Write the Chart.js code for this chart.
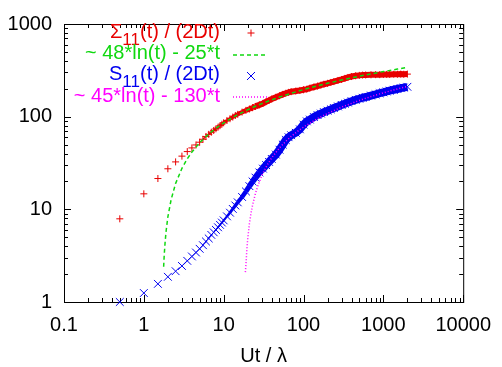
<!DOCTYPE html>
<html>
<head>
<meta charset="utf-8">
<script src="https://cdn.jsdelivr.net/npm/chart.js@4"></script>
<style>body{margin:0;background:#fff}</style>
</head>
<body>
<canvas id="c" width="502" height="367"></canvas>
<script>
// temps (Ut / lambda) des points mesurés
const tSample = [0.5, 1, 1.5, 2, 2.5, 3, 3.5, 4, 4.5, 5, 5.5, 6, 6.5, 7, 7.5, 8, 8.5, 9, 9.5, 10,
  11, 12, 13, 14, 15, 17, 19, 21, 23, 25, 28, 31, 34, 37, 40, 45, 50, 55, 60, 65, 70,
  80, 90, 100, 110, 120, 135, 150, 165, 180, 200, 220, 240, 270, 300, 330, 360, 400, 450, 500,
  550, 600, 700, 800, 900, 1000, 1100, 1200, 1350, 1500, 1650, 1800, 2000];

// Sigma11(t) / (2Dt)
const sigma11 = [7.9, 14.7, 21.5, 27.4, 32.5, 37.5, 42, 46, 49.5, 53, 57, 61, 64.5, 68, 71, 74, 77, 80, 83, 86,
  91, 95, 99, 103, 106, 112, 117, 121, 125, 129, 134, 139, 145, 150, 155, 162, 168, 174, 179, 183, 186,
  189, 192, 195, 198, 203, 209, 214, 219, 224, 229, 234, 239, 246, 252, 259, 265, 271, 276, 279,
  281, 282, 283, 284, 284, 285, 286, 286, 287, 287, 288, 287, 288];

// S11(t) / (2Dt)
const s11 = [1.0, 1.25, 1.57, 1.87, 2.15, 2.45, 2.78, 3.1, 3.42, 3.75, 4.1, 4.5, 4.85, 5.3, 5.65, 6.0, 6.4, 6.8, 7.2, 7.6,
  8.4, 9.2, 10.1, 11.0, 11.9, 13.6, 15.6, 17.8, 20, 22, 25, 27.5, 30, 32.5, 35, 39, 44, 50, 56, 60, 63,
  67, 73, 82, 89, 93, 99, 104, 108, 112, 116, 120, 124, 129, 134, 138, 142, 147, 152, 156,
  160, 163, 169, 174, 179, 183, 187, 191, 195, 199, 203, 206, 210];

// ajustement vert (tirets)
const tGreen = [1.77, 1.8, 1.85, 1.9, 2, 2.2, 2.5, 3, 3.5, 4, 5, 6, 7, 8, 10, 12, 15, 20, 25, 30, 40, 50, 70,
  100, 150, 200, 300, 500, 700, 1000, 1500, 2000];
const fitGreen = [2.4, 3.2, 4.5, 5.8, 8.3, 12.8, 19.0, 27.7, 35.1, 41.5, 52.3, 61.0, 68.4, 74.8, 85.5, 94.3, 105, 118.8,
  129.5, 138.3, 152, 162.8, 178.9, 196, 215.5, 229.3, 248.8, 273.3, 289.4, 306.6, 326, 339.8];

// ajustement magenta (pointillés)
const tMag = [18.7, 19, 19.5, 20, 21, 22, 23, 25, 27, 30, 35, 40, 50, 60, 70, 85, 100, 150, 200, 300, 500, 700,
  1000, 1500, 2000];
const fitMag = [2.1, 2.5, 3.67, 4.8, 7.0, 9.1, 11.1, 14.85, 18.3, 23.05, 30.0, 36.0, 46.0, 54.2, 61.2, 69.9, 77.2,
  95.5, 108.4, 126.7, 149.7, 164.8, 180.9, 199.1, 212];

const xTicks = [0.1, 1, 10, 100, 1000, 10000];
const yTicks = [1, 10, 100, 1000];

const seriesLabels = [
  { main: "Σ", sub: "11", rest: "(t) / (2Dt)" },
  { main: "~ 48*ln(t) - 25*t" },
  { main: "S", sub: "11", rest: "(t) / (2Dt)" },
  { main: "~ 45*ln(t) - 130*t" }
];
const xTitle = "Ut / λ";

const FONT = "'Liberation Sans', Arial, sans-serif";
const RED = "#e80000", GREEN = "#10d810", BLUE = "#0000f0", MAGENTA = "#ff00ff";
const NONE = "rgba(0,0,0,0)";

const pts = (xs, ys) => xs.map((x, i) => ({ x, y: ys[i] }));

// épaisseur de la bande (points qui se chevauchent) : 0 avant t0, puis grandit jusqu'à wMax
const bandWidth = (t0, t1, wMax) => c => {
  const t = c.p0.parsed.x;
  if (t < t0) return 0;
  return Math.min(wMax, 1 + (wMax - 1) * Math.log(t / t0) / Math.log(t1 / t0));
};

// cadre + graduations vers l'intérieur (style gnuplot)
const frame = {
  id: "frame",
  beforeDatasetsDraw(chart) {
    const { ctx, chartArea: a, scales: { x, y } } = chart;
    ctx.save();
    ctx.strokeStyle = "#000";
    ctx.lineWidth = 1;
    ctx.beginPath();
    const tick = (px, len, horiz) => {
      if (horiz) {
        ctx.moveTo(px, a.bottom); ctx.lineTo(px, a.bottom - len);
        ctx.moveTo(px, a.top); ctx.lineTo(px, a.top + len);
      } else {
        ctx.moveTo(a.left, px); ctx.lineTo(a.left + len, px);
        ctx.moveTo(a.right, px); ctx.lineTo(a.right - len, px);
      }
    };
    xTicks.forEach((d, i) => {
      tick(Math.round(x.getPixelForValue(d)) + 0.5, 7, true);
      if (i < xTicks.length - 1)
        for (let m = 2; m < 10; m++) tick(Math.round(x.getPixelForValue(d * m)) + 0.5, 4, true);
    });
    yTicks.forEach((d, i) => {
      tick(Math.round(y.getPixelForValue(d)) + 0.5, 7, false);
      if (i < yTicks.length - 1)
        for (let m = 2; m < 10; m++) tick(Math.round(y.getPixelForValue(d * m)) + 0.5, 4, false);
    });
    ctx.stroke();
    ctx.strokeRect(a.left + 0.5, a.top + 0.5, a.right - a.left, a.bottom - a.top);
    ctx.restore();
  },
  afterDraw(chart) {
    const { ctx, chartArea: a } = chart;
    ctx.save();
    // titre axe x
    ctx.font = "20px " + FONT;
    ctx.fillStyle = "#000";
    ctx.textAlign = "center";
    ctx.textBaseline = "alphabetic";
    ctx.fillText(xTitle, (a.left + a.right) / 2, 362);

    // légende
    const colors = [RED, GREEN, BLUE, MAGENTA];
    const baselines = [38, 59, 80, 102];
    const sampleY = [33, 55, 76, 97];
    const rightX = 220;
    ctx.textAlign = "left";
    seriesLabels.forEach((l, i) => {
      ctx.fillStyle = colors[i];
      ctx.font = "20px " + FONT;
      const wMain = ctx.measureText(l.main).width;
      const wRest = l.rest ? ctx.measureText(l.rest).width : 0;
      ctx.font = "17px " + FONT;
      const wSub = l.sub ? ctx.measureText(l.sub).width : 0;
      let px = rightX - wMain - wSub - wRest;
      ctx.font = "20px " + FONT;
      ctx.fillText(l.main, px, baselines[i]);
      px += wMain;
      if (l.sub) {
        ctx.font = "17px " + FONT;
        ctx.fillText(l.sub, px, baselines[i] + 7);
        px += wSub;
        ctx.font = "20px " + FONT;
        ctx.fillText(l.rest, px, baselines[i]);
      }
      // échantillon
      ctx.strokeStyle = colors[i];
      ctx.beginPath();
      const sy = sampleY[i];
      if (i === 0) {
        ctx.lineWidth = 1;
        ctx.moveTo(247.5, sy); ctx.lineTo(254.5, sy);
        ctx.moveTo(251, sy - 3.5); ctx.lineTo(251, sy + 3.5);
      } else if (i === 2) {
        ctx.lineWidth = 1;
        ctx.moveTo(247, sy - 4); ctx.lineTo(255, sy + 4);
        ctx.moveTo(247, sy + 4); ctx.lineTo(255, sy - 4);
      } else {
        ctx.lineWidth = 1.5;
        ctx.setLineDash(i === 1 ? [4, 3] : [1, 2]);
        ctx.moveTo(233, sy); ctx.lineTo(268, sy);
      }
      ctx.stroke();
      ctx.setLineDash([]);
    });
    ctx.restore();
  }
};

new Chart(document.getElementById("c"), {
  type: "scatter",
  data: {
    datasets: [
      // les points se chevauchent en bande pleine aux temps longs
      { data: pts(tSample, sigma11), pointStyle: "cross", pointRadius: 3.5, pointBorderColor: RED,
        pointBorderWidth: 1, showLine: true, borderWidth: 6, borderColor: RED, tension: 0,
        segment: { borderColor: c => c.p0.parsed.x >= 5 ? RED : NONE, borderWidth: bandWidth(5, 25, 6) },
        order: 4 },
      { data: pts(tGreen, fitGreen), showLine: true, pointRadius: 0, borderColor: GREEN,
        borderWidth: 1.5, borderDash: [4, 3], tension: 0, order: 3 },
      { data: pts(tSample, s11), pointStyle: "crossRot", pointRadius: 5.5, pointBorderColor: BLUE,
        pointBorderWidth: 1, showLine: true, borderWidth: 8, borderColor: BLUE, tension: 0,
        segment: { borderColor: c => c.p0.parsed.x >= 8 ? BLUE : NONE, borderWidth: bandWidth(8, 35, 8) },
        order: 2, clip: false },
      { data: pts(tMag, fitMag), showLine: true, pointRadius: 0, borderColor: MAGENTA,
        borderWidth: 1.5, borderDash: [1, 2], tension: 0, order: 1 }
    ]
  },
  options: {
    responsive: false,
    animation: false,
    devicePixelRatio: 1,
    layout: { padding: { top: 14, right: 33, left: 0, bottom: 0 } },
    plugins: { legend: { display: false }, tooltip: { enabled: false } },
    scales: {
      x: {
        type: "logarithmic", min: 0.1, max: 10000,
        grid: { display: false, drawTicks: false }, border: { display: false },
        ticks: { font: { family: FONT, size: 20 }, color: "#000", padding: 11,
          maxRotation: 0, autoSkip: false, callback: v => String(v) },
        afterBuildTicks: s => { s.ticks = xTicks.map(value => ({ value })); },
        afterFit: s => { s.height = 65; }
      },
      y: {
        type: "logarithmic", min: 1, max: 1000,
        grid: { display: false, drawTicks: false }, border: { display: false },
        ticks: { font: { family: FONT, size: 20 }, color: "#000", padding: 12,
          autoSkip: false, callback: v => String(v) },
        afterBuildTicks: s => { s.ticks = yTicks.map(value => ({ value })); },
        afterFit: s => { s.width = 64; }
      }
    }
  },
  plugins: [frame]
});
</script>
</body>
</html>
